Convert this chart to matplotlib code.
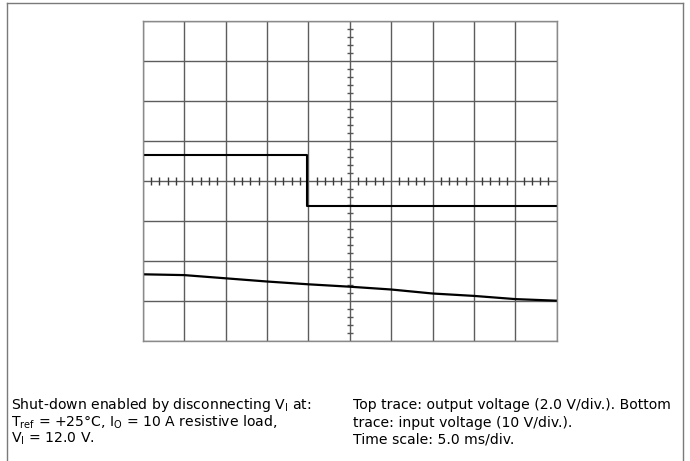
import matplotlib.pyplot as plt
from matplotlib.lines import Line2D
import numpy as np

plt.rcParams['font.family'] = ['DejaVu Sans']

# time axis: 5.0 ms/div, 10 divisions
time_ms_grid = [0, 5, 10, 15, 20, 25, 30, 35, 40, 45, 50]

# top trace (output voltage), in divisions from screen centre
top_t = [0, 19.8, 19.8, 50]
top_div = [0.63, 0.63, -0.64, -0.64]

# bottom trace (input voltage), in divisions from screen centre
bot_t = [0, 5, 10, 15, 20, 25, 30, 35, 40, 45, 50]
bot_div = [-2.34, -2.36, -2.44, -2.52, -2.59, -2.65, -2.72, -2.82, -2.88, -2.96, -3.0]

W, H = 690, 461
fig = plt.figure(figsize=(W / 100, H / 100), dpi=100)

# scope screen box in pixels
x0, x1, y0, y1 = 142.7, 556.7, 20.7, 340.7
ax = fig.add_axes([x0 / W, 1 - y1 / H, (x1 - x0) / W, (y1 - y0) / H])
ax.set_xlim(0, 50)
ax.set_ylim(-4, 4)
ax.set_xticks(time_ms_grid)
ax.set_yticks(range(-4, 5))
ax.tick_params(length=0, labelbottom=False, labelleft=False)
ax.grid(True, color='#5c5c5c', lw=1.0)
for s in ax.spines.values():
    s.set_color('#8a8a8a')
    s.set_linewidth(1.0)

# centre graticule ticks (0.2 div)
minor = np.arange(0, 10.01, 0.2)
minor = minor[np.abs(minor - np.round(minor)) > 0.05]
ax.plot(minor * 5, np.zeros_like(minor), ls='none', marker='|', ms=5.5,
        mew=1.0, color='#3a3a3a')
my = np.arange(-4, 4.01, 0.2)
my = my[np.abs(my - np.round(my)) > 0.05]
ax.plot(np.full_like(my, 25), my, ls='none', marker='_', ms=5,
        mew=1.0, color='#555555')

ax.plot(top_t, top_div, color='black', lw=1.5)
ax.plot(bot_t, bot_div, color='black', lw=1.6)

# outer frame (open at the bottom)
gc = '#7a7a7a'
fig.add_artist(Line2D([7 / W, 7 / W], [0, 1 - 3.5 / H], color=gc, lw=1.0))
fig.add_artist(Line2D([682.5 / W, 682.5 / W], [0, 1 - 3.5 / H], color=gc, lw=1.0))
fig.add_artist(Line2D([7 / W, 682.5 / W], [1 - 3.5 / H, 1 - 3.5 / H], color=gc, lw=1.0))

left_lines = [
    r'Shut-down enabled by disconnecting V$_\mathregular{I}$ at:',
    r'T$_\mathregular{ref}$ = +25°C, I$_\mathregular{O}$ = 10 A resistive load,',
    r'V$_\mathregular{I}$ = 12.0 V.',
]
right_lines = [
    'Top trace: output voltage (2.0 V/div.). Bottom',
    'trace: input voltage (10 V/div.).',
    'Time scale: 5.0 ms/div.',
]
baselines = [409.0, 426.5, 443.0]
for i, yb in enumerate(baselines):
    fig.text(11 / W, 1 - yb / H, left_lines[i], fontsize=10.1,
             va='baseline', ha='left')
    fig.text(353 / W, 1 - yb / H, right_lines[i], fontsize=10.1,
             va='baseline', ha='left')

fig.savefig('out.png', dpi=100)
